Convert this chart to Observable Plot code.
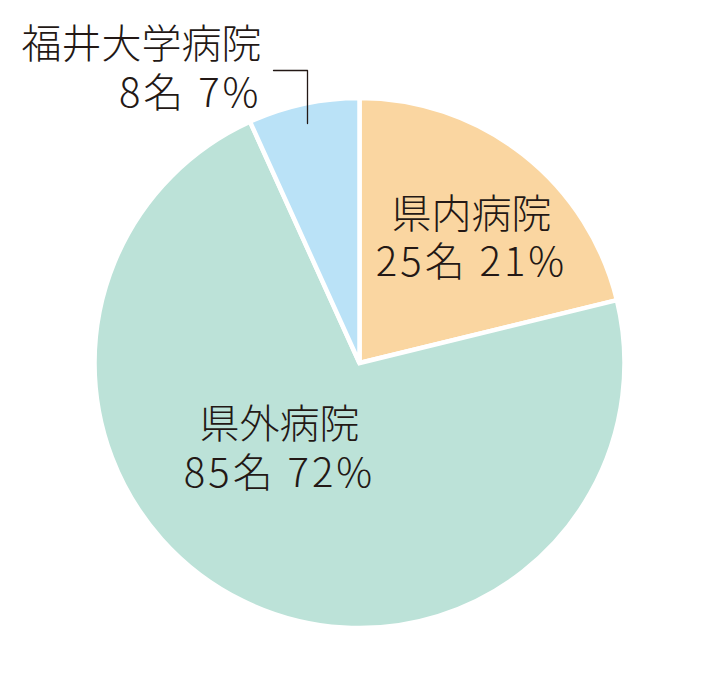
<!DOCTYPE html>
<html><head><meta charset="utf-8">
<script src="https://cdn.jsdelivr.net/npm/d3@7"></script>
<script src="https://cdn.jsdelivr.net/npm/@observablehq/plot@0.6"></script>
<style>body{margin:0;background:#fff}</style>
</head><body><div id="chart"></div>
<script>
const categories = ["県内病院", "県外病院", "福井大学病院"];
const counts = [25, 85, 8];
const percents = [21, 72, 7];
const colors = ["#FAD6A1", "#BCE2D8", "#BAE2F7"];

const W = 720, H = 678;
const cx = 359.5, cy = 363, R = 265;

const slices = categories.map((c, i) => ({name: c, count: counts[i], pct: percents[i], color: colors[i]}));
const arcs = d3.pie().sort(null).value(d => d.count)(slices);

// label positions
const labelPos = [
  {x: 471, y1: 215, y2: 263, anchor: "middle"},
  {x: 279, y1: 425, y2: 474, anchor: "middle"},
  {x: 261, y1: 45, y2: 94, anchor: "end"}
];
const nameLabels = [], valueLabels = [];
slices.forEach((s, i) => {
  nameLabels.push({x: labelPos[i].x, y: labelPos[i].y1, t: s.name, a: labelPos[i].anchor});
  valueLabels.push({x: labelPos[i].x, y: labelPos[i].y2, t: `${s.count}名\u00A0${s.pct}%`, a: labelPos[i].anchor});
});

function pieMark(index, scales) {
  const g = d3.create("svg:g");
  const px = scales.x(cx), py = scales.y(cy);
  const r = scales.x(cx + R) - px;
  const arc = d3.arc().innerRadius(0).outerRadius(r);
  g.selectAll("path").data(arcs).join("path")
    .attr("transform", `translate(${px},${py})`)
    .attr("d", arc)
    .attr("fill", d => d.data.color)
    .attr("stroke", "#fff")
    .attr("stroke-width", 4.5)
    .attr("stroke-linejoin", "miter");
  return g.node();
}

const leader = [{x: 273, y: 70}, {x: 307, y: 70}, {x: 307, y: 123}];

const txt = (data, anchor) => Plot.text(data.filter(d => d.a === anchor), {
  x: "x", y: "y", text: "t", fontSize: 40, fill: "#231815", textAnchor: anchor, fontWeight: 300
});

const chart = Plot.plot({
  width: W, height: H,
  margin: 0,
  x: {domain: [0, W], range: [0, W], axis: null},
  y: {domain: [0, H], range: [0, H], axis: null},
  style: {fontFamily: "'Noto Sans CJK JP', sans-serif", background: "#fff"},
  marks: [
    pieMark,
    Plot.line(leader, {x: "x", y: "y", stroke: "#231815", strokeWidth: 1.3}),
    txt(nameLabels, "middle"),
    txt(nameLabels, "end"),
    txt(valueLabels, "middle"),
    txt(valueLabels, "end")
  ]
});
// widen the number lines' letter spacing like the reference typeface
d3.select(chart).selectAll("text").filter(function() { return this.textContent.includes("名"); })
  .style("letter-spacing", "3px");
document.getElementById("chart").append(chart);
</script>
</body></html>
